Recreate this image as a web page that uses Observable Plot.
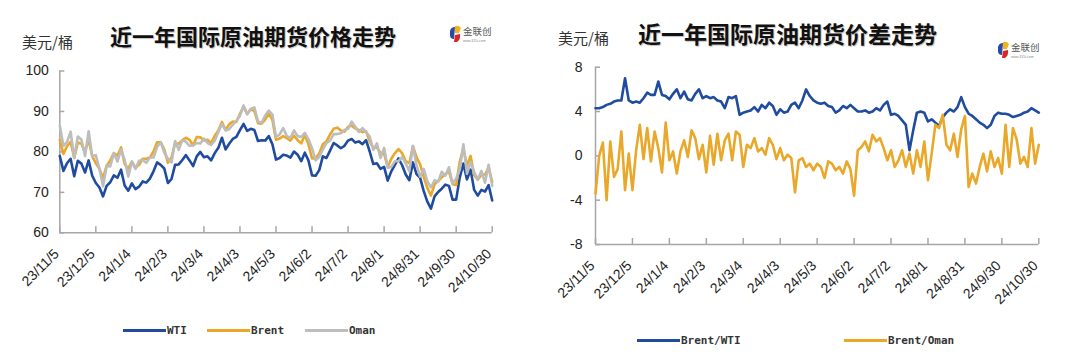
<!DOCTYPE html>
<html>
<head>
<meta charset="utf-8">
<script src="https://cdn.jsdelivr.net/npm/d3@7"></script>
<script src="https://cdn.jsdelivr.net/npm/@observablehq/plot@0.6"></script>
<style>
  body { margin: 0; background: #fff; }
  #root { position: relative; width: 1066px; height: 359px; overflow: hidden; background: #fff; }
  .abs { position: absolute; white-space: nowrap; }
  .title { font-family: "Noto Sans CJK SC", sans-serif; font-weight: 700; color: #111; text-shadow: 1px 1px 1px rgba(0,0,0,0.25); }
  .unit { font-family: "Noto Sans CJK SC", sans-serif; font-size: 15px; line-height: 15px; color: #333; }
  .leg { font-family: "DejaVu Sans Mono", monospace; font-size: 11px; line-height: 13px; color: #333; font-weight: bold; }
  .sw { position: absolute; height: 3px; }
</style>
</head>
<body>
<div id="root"></div>
<script>
// ---------- data (one value every 3 days, from 2023-11-05 to 2024-10-30) ----------
const startLabel = "23/11/5";
const stepDays = 3;

const xTickLabels = ["23/11/5","23/12/5","24/1/4","24/2/3","24/3/4","24/4/3","24/5/3","24/6/2","24/7/2","24/8/1","24/8/31","24/9/30","24/10/30"];
const priceTicks = [60, 70, 80, 90, 100];
const spreadTicks = [-8, -4, 0, 4, 8];

const seriesPrice = ["WTI", "Brent", "Oman"];
const seriesSpread = ["Brent/WTI", "Brent/Oman"];

const wti = [79.0,75.3,77.2,78.3,74.0,77.8,77.1,74.9,77.9,74.1,
 72.3,71.2,69.0,71.6,72.5,74.2,73.6,75.6,71.7,70.4,
 72.2,70.8,71.4,72.7,72.4,73.4,75.2,77.4,76.8,75.9,
 72.3,73.3,76.8,76.9,78.0,79.2,77.9,76.5,78.9,80.0,
 78.7,78.9,77.9,79.7,81.0,83.5,80.6,82.0,83.2,83.7,
 85.4,86.9,85.2,85.7,85.4,82.7,82.9,82.8,83.9,81.9,
 78.1,78.5,79.3,79.1,78.6,80.1,79.3,77.7,79.8,77.9,
 74.2,74.1,75.5,78.9,78.5,80.3,82.2,81.6,80.9,81.5,
 82.8,83.2,82.3,82.6,81.9,82.9,80.1,77.0,77.2,75.8,
 76.3,72.9,75.2,76.8,78.4,76.7,74.4,73.0,77.4,74.5,
 73.6,70.3,67.7,66.0,69.0,70.1,70.9,71.9,71.6,68.2,
 68.2,73.7,77.1,73.2,75.6,70.6,69.2,70.6,70.2,71.8,
 68.0];

const brent = [83.0,79.5,81.4,82.5,78.5,82.3,82.0,80.0,83.1,78.9,
 77.2,75.8,73.5,76.6,77.9,79.7,79.1,81.1,77.0,75.9,
 77.6,76.1,76.8,78.3,78.3,78.6,80.1,82.4,82.4,80.6,
 77.3,78.6,82.2,82.0,82.9,83.5,83.0,81.6,83.7,83.6,
 82.8,83.0,82.2,84.0,85.3,87.4,85.4,86.8,87.5,87.4,
 89.4,91.2,89.4,90.5,90.1,87.1,87.0,88.0,89.5,87.9,
 83.0,83.3,83.9,83.4,82.8,84.0,82.9,82.1,84.2,81.9,
 78.4,78.4,79.6,81.9,82.6,84.3,85.7,86.0,85.3,85.0,
 86.2,86.5,85.8,85.4,84.9,85.1,82.6,81.0,81.1,79.8,
 79.5,76.3,78.3,79.7,80.7,79.7,77.7,77.2,81.4,78.7,
 76.9,73.8,71.1,69.2,72.0,72.8,73.7,74.5,75.2,72.0,
 71.8,77.6,80.9,76.6,79.0,74.3,73.1,74.3,74.4,76.1,
 72.6];

const oman = [86.5,81.5,82.4,85.0,78.5,83.8,83.0,79.0,85.1,78.9,
 79.2,75.8,71.5,76.6,76.4,79.7,77.6,80.6,78.0,73.9,
 77.6,75.8,77.8,78.0,77.3,78.6,78.6,81.2,82.4,79.8,
 78.3,77.4,82.7,80.5,82.9,82.5,81.5,81.6,82.2,82.1,
 83.3,82.2,81.7,82.8,84.9,86.9,85.3,85.6,86.7,87.7,
 88.9,91.5,89.3,90.7,91.0,87.5,87.2,89.0,90.2,89.2,
 83.7,84.3,85.9,83.9,83.5,85.3,83.9,83.7,84.7,83.1,
 80.9,77.9,78.8,80.6,82.2,82.8,84.4,84.4,84.6,85.4,
 85.7,87.5,86.2,84.9,85.9,84.9,83.8,80.5,82.1,78.5,
 81.0,76.1,76.3,77.7,77.7,78.7,77.2,75.2,81.5,76.7,
 73.9,75.8,72.7,71.2,73.0,72.6,75.1,74.1,76.2,72.2,
 73.4,75.6,81.9,74.6,77.5,75.0,73.2,75.3,72.4,76.8,
 71.6];

const brentWti = [4.3,4.3,4.4,4.6,4.7,4.9,5.0,5.0,7.0,5.0,
 4.8,4.9,4.8,5.2,5.7,5.5,5.5,6.7,5.5,5.4,
 5.1,5.6,6.0,5.2,5.8,5.1,5.0,5.6,6.0,5.2,
 5.4,5.2,5.3,5.0,4.9,4.3,5.3,5.2,5.4,3.7,
 3.9,4.0,4.1,4.4,4.0,4.6,4.3,4.8,4.5,3.7,
 4.2,3.9,4.0,4.6,4.8,4.3,5.0,6.0,5.4,5.0,
 4.8,4.7,4.8,4.5,4.4,3.9,4.1,4.5,4.3,4.6,
 4.3,4.0,4.0,4.1,3.9,4.0,4.3,4.1,4.6,4.9,
 3.7,3.8,3.6,3.2,2.8,0.5,2.3,3.9,4.0,3.9,
 3.1,3.3,3.0,2.7,3.5,3.9,4.2,4.0,4.4,5.3,
 4.4,3.8,3.6,3.3,3.0,2.8,2.5,2.8,3.6,3.9,
 3.8,3.8,3.7,3.5,3.6,3.7,3.9,4.0,4.3,4.1,
 3.9];

const brentOman = [-3.4,0.0,1.2,-4.0,1.3,-1.9,-1.2,2.2,-3.1,0.2,
 -3.1,0.5,2.8,-0.3,2.5,-0.5,2.2,0.7,-1.5,3.0,
 -0.4,0.4,-1.6,0.4,1.4,-0.1,2.3,1.6,-0.3,1.0,
 -1.5,1.8,-0.8,2.0,-0.4,1.4,2.0,-0.4,2.2,1.9,
 -1.0,1.0,0.7,1.6,0.4,0.7,0.1,1.6,1.0,-0.3,
 0.7,-0.4,0.1,-0.2,-3.3,-0.4,-0.2,-1.0,-0.7,-1.3,
 -0.7,-1.0,-2.0,-0.5,-0.7,-1.3,-1.0,-1.6,-0.5,-1.2,
 -3.6,0.5,0.8,1.3,0.4,1.9,1.3,1.6,0.7,-0.4,
 0.5,-1.0,-0.4,0.5,-1.0,0.2,-1.6,0.5,-1.0,1.3,
 -2.2,0.2,2.8,2.5,3.7,1.0,0.5,2.0,-0.1,2.4,
 3.6,-2.8,-1.6,-2.5,-1.0,0.2,-1.4,0.4,-1.0,-0.2,
 -1.6,2.8,-1.0,2.5,1.5,-0.7,-0.1,-1.0,2.5,-0.7,
 1.0];

const colors = {"WTI": "#1f4c9e", "Brent": "#e9a82a", "Oman": "#bdbdbd", "Brent/WTI": "#1f4c9e", "Brent/Oman": "#e9a82a"};

// ---------- helpers ----------
function parseLabel(s) {
  const [y, m, d] = s.split("/").map(Number);
  return new Date(Date.UTC(2000 + y, m - 1, d));
}
const start = parseLabel(startLabel);
const xTickDates = xTickLabels.map(parseLabel);
const end = xTickDates[xTickDates.length - 1];
const dateAt = i => d3.utcDay.offset(start, i * stepDays);
function toRows(arr, name) { return arr.map((v, i) => ({date: dateAt(i), value: v, series: name})); }

const axisColor = "#a6a6a6";
const baseStyle = {fontFamily: "'Liberation Sans', Arial, sans-serif", fontSize: "14px", color: "#222", background: "transparent", overflow: "visible"};

function makeChart({width, height, mL, mR, mT, mB, yDomain, yTicks, lines, ydx}) {
  const fw = width - mL - mR, fh = height - mT - mB;
  return Plot.plot({
    width, height, marginLeft: mL, marginRight: mR, marginTop: mT, marginBottom: mB,
    x: {type: "utc", domain: [start, end], axis: null},
    y: {domain: yDomain, axis: null},
    style: baseStyle,
    marks: [
      Plot.ruleX([start], {stroke: axisColor, strokeWidth: 1.5}),
      Plot.ruleY([yDomain[0]], {stroke: axisColor, strokeWidth: 1.5}),
      Plot.tickY(yTicks, {y: d => d, insetRight: fw - 5, stroke: axisColor, strokeWidth: 1.5}),
      Plot.tickX(xTickDates, {x: d => d, insetTop: fh - 6, stroke: axisColor, strokeWidth: 1.5}),
      Plot.text(yTicks, {y: d => d, text: d => String(d), frameAnchor: "left", dx: ydx, textAnchor: "end", fill: "#222", fontSize: 14}),
      Plot.text(xTickDates, {x: d => d, text: (d, i) => xTickLabels[i], frameAnchor: "bottom", dy: 22, rotate: -45, textAnchor: "end", fill: "#222", fontSize: 14}),
      ...lines.map(([arr, name]) => Plot.line(toRows(arr, name), {x: "date", y: "value", stroke: colors[name], strokeWidth: 2.6, strokeLinejoin: "round"}))
    ]
  });
}

const root = document.getElementById("root");
function place(el, left, top) { el.style.position = "absolute"; el.style.left = left + "px"; el.style.top = top + "px"; root.appendChild(el); return el; }
function addText(cls, text, left, top, extra = {}) {
  const d = document.createElement("div");
  d.className = "abs " + cls; d.textContent = text;
  Object.assign(d.style, extra);
  return place(d, left, top);
}
function addLegend(name, left, top, lineLen) {
  const sw = document.createElement("div");
  sw.className = "sw"; sw.style.width = lineLen + "px"; sw.style.background = colors[name];
  place(sw, left, top);
  addText("leg", name, left + lineLen + 1, top - 5);
}
function addLogo(left, top) {
  const ns = "http://www.w3.org/2000/svg";
  const s = document.createElementNS(ns, "svg");
  s.setAttribute("width", 50); s.setAttribute("height", 22);
  s.innerHTML = `
    <path d="M2,7 Q3,3 7,3 L6,15 Q2,15 2,11 Z" fill="#2a4aa8"/>
    <path d="M7,2 Q11,1 13,4 L11,9 L7,9 Z" fill="#f1b51c"/>
    <path d="M7,11 L12,10 Q13,15 9,18 L6,18 Z" fill="#d9262b"/>
    <text x="15" y="11" font-family="Noto Sans CJK SC" font-size="9.5" fill="#555">金联创</text>
    <text x="15" y="18" font-family="Liberation Sans" font-size="3.5" fill="#888">www.315i.com</text>`;
  return place(s, left, top);
}

// ---------- left chart ----------
addText("title", "近一年国际原油期货价格走势", 110, 23, {fontSize: "22px", lineHeight: "24px"});
addText("unit", "美元/桶", 22, 34);
addLogo(448, 24);
place(makeChart({width: 533, height: 250, mL: 59.3, mR: 41.3, mT: 10.5, mB: 77.7,
  yDomain: [60, 100], yTicks: priceTicks, ydx: -11,
  lines: [[wti, seriesPrice[0]], [brent, seriesPrice[1]], [oman, seriesPrice[2]]]}), 0, 60);
addLegend(seriesPrice[0], 123, 329, 43);
addLegend(seriesPrice[1], 207, 329, 43);
addLegend(seriesPrice[2], 305, 329, 43);

// ---------- right chart ----------
addText("title", "近一年国际原油期货价差走势", 638, 21, {fontSize: "23px", lineHeight: "25px"});
addText("unit", "美元/桶", 558, 30);
addLogo(996, 40);
place(makeChart({width: 533, height: 259, mL: 62, mR: 27.7, mT: 11.7, mB: 70,
  yDomain: [-8, 8], yTicks: spreadTicks, ydx: -13,
  lines: [[brentWti, seriesSpread[0]], [brentOman, seriesSpread[1]]]}), 533, 55);
addLegend(seriesSpread[0], 637, 339, 43);
addLegend(seriesSpread[1], 844, 339, 43);
</script>
</body>
</html>
